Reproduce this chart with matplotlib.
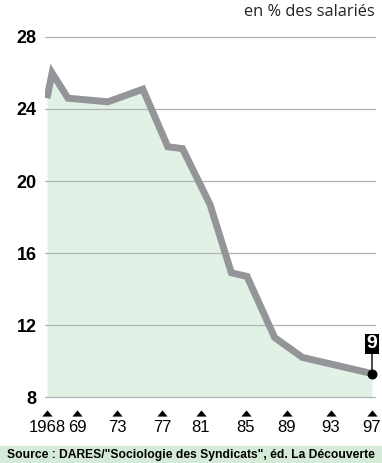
import numpy as np
import matplotlib
matplotlib.use("Agg")
import matplotlib.pyplot as plt
import matplotlib.transforms as mtransforms

# syndication rate, % of employees
years = [1968, 1968.17, 1968.7, 1972.1, 1975.3, 1977.6, 1979.1, 1981.8, 1983.7, 1985.1, 1987.8, 1990.4, 1997]
rate = [24.6, 26.0, 24.6, 24.4, 25.1, 21.9, 21.8, 18.7, 14.9, 14.7, 11.3, 10.2, 9.3]

tick_years = [1968, 1969, 1973, 1977, 1981, 1985, 1989, 1993, 1997]
tick_labels = ["1968", "69", "73", "77", "81", "85", "89", "93", "97"]
y_ticks = [8, 12, 16, 20, 24, 28]

# uneven spacing of the year axis
anchor_years = [1960] + tick_years + [2005]
anchor_pos = [47 - 8 * 30, 47, 77, 117, 162, 201, 246, 287, 331, 372, 372 + 8 * 11]


def fwd(x):
    return np.interp(x, anchor_years, anchor_pos)


def inv(x):
    return np.interp(x, anchor_pos, anchor_years)


LINE = "#939598"
FILL = "#e2f1e5"
GRID = "#b3b3b3"

W, H = 382, 463
fig = plt.figure(figsize=(W / 100, H / 100), dpi=100)
ax = fig.add_axes([45 / W, (H - 398.8) / H, 331 / W, 370.8 / H])

ax.set_xscale("function", functions=(fwd, inv))
ax.set_xlim(inv(45), inv(376))
ax.set_ylim(7.9, 28.5)

ax.fill_between(years, rate, 8, color=FILL, lw=0, zorder=1)
ax.plot(years, rate, color=LINE, lw=5, solid_joinstyle="miter", solid_capstyle="butt", zorder=3)

for v in y_ticks:
    ax.axhline(v, color=GRID, lw=0.9, zorder=2)

for s in ax.spines.values():
    s.set_visible(False)

ax.set_yticks(y_ticks)
ax.set_yticklabels([str(v) for v in y_ticks], fontfamily="Liberation Sans",
                   fontweight="bold", fontsize=13)
ax.tick_params(axis="y", length=0, pad=6)

ax.set_xticks(tick_years)
ax.set_xticklabels(tick_labels, fontfamily="Liberation Sans", fontsize=12)
ax.tick_params(axis="x", length=0, pad=15.5)
ax.minorticks_off()

# flat triangle markers under each year
tri = [(-1, -0.6), (1, -0.6), (0, 0.6)]
trans = mtransforms.blended_transform_factory(ax.transData, ax.transAxes)
ax.scatter(tick_years, [-0.0385] * len(tick_years), marker=tri, s=55, color="black",
           transform=trans, clip_on=False, zorder=5, linewidths=0)

# last value callout
ax.scatter([years[-1]], [rate[-1]], s=38, color="black", zorder=6, clip_on=False)
ax.annotate(str(int(round(rate[-1]))), xy=(years[-1], rate[-1]), xytext=(0, 21.5),
            textcoords="offset points", ha="center", va="center",
            color="white", fontsize=14, fontweight="bold", fontfamily="Liberation Sans",
            bbox=dict(boxstyle="square,pad=0.08", fc="black", ec="none"),
            arrowprops=dict(arrowstyle="-", color="black", lw=1, shrinkA=0, shrinkB=0),
            zorder=7, annotation_clip=False)

fig.text(375 / W, 1 - 12 / H, "en % des salariés", ha="right", va="center",
         fontfamily="Open Sans", fontsize=11.8, color="#222222")

# source band
fig.patches.append(plt.Rectangle((0, 0), 1, 17 / H, transform=fig.transFigure,
                                 color="#d5ebd7", zorder=0))
fig.text(0.5, 8 / H, "Source : DARES/\"Sociologie des Syndicats\", éd. La Découverte",
         ha="center", va="center", fontfamily="Liberation Sans", fontweight="bold",
         fontsize=8.7)

fig.savefig("out.png", dpi=100)
